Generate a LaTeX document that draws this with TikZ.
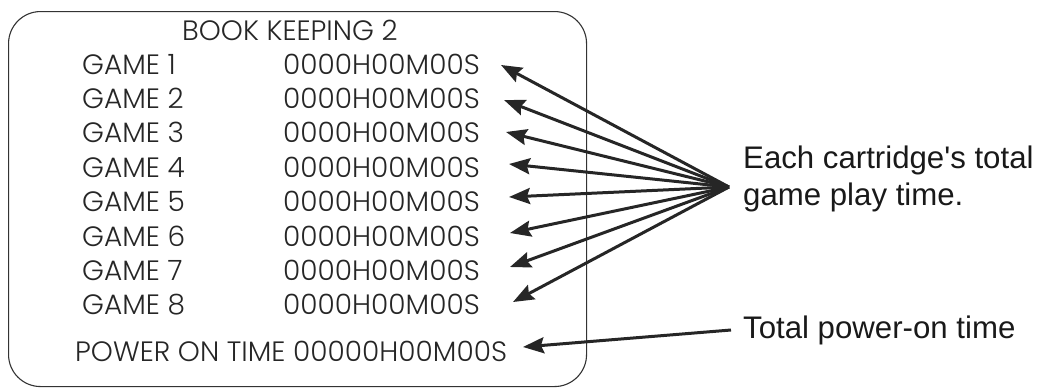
\documentclass[tikz,border=0pt]{standalone}
\usepackage{fontspec}
\setmainfont{Liberation Sans}[Ligatures=TeXOff]
\newfontfamily\screenfont{Poppins Light}
\usetikzlibrary{arrows.meta}
\begin{document}
\begin{tikzpicture}[x=1pt,y=-1pt,
  scr/.style={font=\screenfont\fontsize{28}{28}\selectfont, anchor=base west, inner sep=0pt, text=black!85},
  lbl/.style={font=\fontsize{31.2}{37}\selectfont, anchor=base west, inner sep=0pt, align=left, text=black!90},
  fanarrow/.style={line width=3pt, -{Stealth[length=21pt,width=16pt,inset=3pt]}, draw=black!85},
  screenbox/.style={draw=black!80, line width=1.1pt, rounded corners=32pt, inner sep=0pt}
]
\useasboundingbox (0,0) rectangle (1043,388);
\node[screenbox, minimum width=578pt, minimum height=375pt, anchor=north west] (screen) at (8,11) {};
\node[scr] (title) at (182,40) {BOOK KEEPING 2};
\foreach \i in {1,...,8} {
  \pgfmathsetmacro\yy{74+34.4*(\i-1)}
  \node[scr] (g\i) at (82,\yy) {GAME \i};
  \node[scr] (v\i) at (283,\yy) {0000H00M00S};
}
\node[scr] (power) at (75,361) {POWER ON TIME 00000H00M00S};
\node[lbl] (each) at (743,205) {Each cartridge's total\\game play time.};
\node[lbl] (total) at (743,338) {Total power-on time};
\coordinate (fan) at (729,187);
\coordinate (t1) at (501,65);
\coordinate (t2) at (504,100);
\coordinate (t3) at (506,132);
\coordinate (t4) at (509,164);
\coordinate (t5) at (509,197);
\coordinate (t6) at (510,233);
\coordinate (t7) at (510,267);
\coordinate (t8) at (513,302);
\coordinate (pstart) at (731,330);
\coordinate (ptip) at (523,347);
\foreach \i in {1,...,8} { \draw[fanarrow] (fan) -- (t\i); }
\draw[fanarrow] (pstart) -- (ptip);
\end{tikzpicture}
\end{document}
